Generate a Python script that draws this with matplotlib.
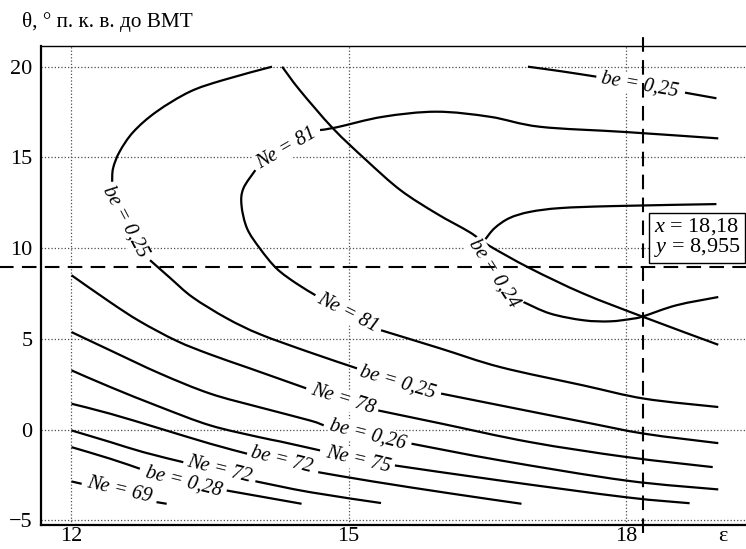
import numpy as np
import matplotlib.pyplot as plt
from matplotlib.path import Path
from matplotlib.patches import PathPatch

plt.rcParams['font.family'] = ['Liberation Serif', 'DejaVu Serif']
plt.rcParams['mathtext.fontset'] = 'custom'
plt.rcParams['mathtext.rm'] = 'Liberation Serif'
plt.rcParams['mathtext.it'] = 'Liberation Serif:italic'

# ----------------------------------------
# Данные (eps, theta)
# каждая кривая - список кусков, разрывы там где подписи
# ----------------------------------------
be25_loop = [
    ([14.17, 13.64, 13.28, 12.92, 12.67, 12.52, 12.45, 12.44],
     [20.0, 19.26, 18.62, 17.52, 16.41, 15.31, 14.40, 13.66]),
    ([12.85, 13.07, 13.31, 13.68, 14.04, 14.58, 15.09],
     [9.34, 8.35, 7.30, 6.14, 5.26, 4.26, 3.38]),
    ([16.00, 16.64, 17.54, 18.20, 19.00],
     [1.99, 1.34, 0.43, -0.22, -0.74]),
]
be25_top = [
    ([16.94, 17.31, 17.68], [20.0, 19.74, 19.45]),
    ([18.64, 18.98], [18.57, 18.26]),
]
ne81_loop = [
    ([19.00, 18.00, 17.07, 16.53, 15.95, 15.37, 14.87, 14.69],
     [16.05, 16.40, 16.69, 17.24, 17.52, 17.24, 16.66, 16.51]),
    ([13.99, 13.86, 13.84, 13.90, 14.04, 14.22, 14.43, 14.64],
     [14.30, 13.29, 12.37, 11.09, 9.98, 8.88, 8.07, 7.41]),
    ([15.35, 15.99, 16.64, 17.54, 18.20, 19.00],
     [5.48, 4.48, 3.45, 2.44, 1.71, 1.25]),
]
diag = [
    ([14.28, 14.47, 14.83, 15.19, 15.56, 15.95, 16.31, 16.51, 16.96, 17.54, 18.19, 19.00],
     [20.0, 18.71, 16.60, 14.85, 13.20, 11.91, 10.88, 10.17, 8.90, 7.50, 6.21, 4.68]),
]
be24 = [
    ([18.98, 17.86, 17.29, 16.96, 16.74, 16.58, 16.48],
     [12.43, 12.32, 12.21, 12.00, 11.66, 11.11, 10.50]),
    ([16.89, 17.18, 17.54, 17.83, 18.08, 18.19, 18.55, 19.00],
     [7.04, 6.40, 6.03, 5.97, 6.12, 6.25, 6.86, 7.31]),
]
ne78 = [
    ([12.0, 12.42, 12.74, 13.14, 13.50, 13.93, 14.54],
     [8.51, 7.02, 5.97, 4.89, 4.15, 3.38, 2.28]),
    ([15.32, 15.99, 16.96, 18.00, 18.94], [1.06, 0.35, -0.68, -1.50, -2.06]),
]
be26 = [
    ([12.0, 12.42, 12.96, 13.50, 14.04, 14.58, 14.73],
     [5.38, 4.37, 3.09, 1.99, 1.23, 0.51, 0.24]),
    ([15.68, 16.64, 18.00, 19.00], [-0.77, -1.69, -2.80, -3.29]),
]
ne75 = [
    ([12.0, 12.42, 12.96, 13.50, 14.04, 14.26, 14.69],
     [3.27, 2.35, 1.25, 0.24, -0.42, -0.65, -1.14]),
    ([15.50, 16.64, 18.00, 18.69], [-1.97, -2.80, -3.72, -4.05]),
]
be72 = [
    ([12.0, 12.42, 12.96, 13.50, 13.90], [1.43, 0.88, 0.06, -0.77, -1.32]),
    ([14.67, 15.26, 16.10, 16.87], [-2.34, -2.85, -3.51, -4.08]),
]
ne72 = [
    ([12.0, 12.42, 12.78, 13.21], [-0.04, -0.68, -1.24, -1.79]),
    ([13.99, 14.58, 15.35], [-2.84, -3.44, -4.04]),
]
be28 = [
    ([12.0, 12.42, 12.74], [-0.96, -1.60, -2.15]),
    ([13.68, 14.49], [-3.35, -4.08]),
]
ne69 = [
    ([12.0, 12.11], [-2.85, -2.98]),
    ([12.92, 13.03], [-3.99, -4.08]),
]
curves = [be25_loop, be25_top, ne81_loop, diag, be24, ne78, be26, ne75, be72, ne72, be28, ne69]

# подписи изолиний: текст, x, y, угол
labels = [
    ("be = 0,25", 12.58, 11.46, -62),
    ("be = 0,25", 15.53, 2.63, -16.5),
    ("be = 0,25", 18.15, 18.99, -10),
    ("Ne = 81", 14.33, 15.50, 30),
    ("Ne = 81", 14.99, 6.44, -27),
    ("be = 0,24", 16.57, 8.60, -57),
    ("Ne = 78", 14.94, 1.66, -17),
    ("be = 0,26", 15.21, -0.27, -14),
    ("Ne = 75", 15.10, -1.65, -13),
    ("be = 72", 14.27, -1.69, -14),
    ("Ne = 72", 13.60, -2.19, -14),
    ("be = 0,28", 13.21, -2.89, -14),
    ("Ne = 69", 12.52, -3.35, -13),
]

x_ticks = [12, 15, 18]
y_ticks = [-5, 0, 5, 10, 15, 20]
x_cur = 18.18
y_cur = 8.955


def smooth(xs, ys):
    # гладкая кривая (Catmull-Rom -> Безье) через снятые точки
    p = np.column_stack([xs, ys])
    if len(p) < 3:
        return Path(p)
    e = np.vstack([p[0], p, p[-1]])
    verts = [p[0]]
    codes = [Path.MOVETO]
    for i in range(1, len(e) - 2):
        verts += [e[i] + (e[i + 1] - e[i - 1]) / 6, e[i + 1] - (e[i + 2] - e[i]) / 6, e[i + 1]]
        codes += [Path.CURVE4] * 3
    return Path(verts, codes)


# ----------------------------------------
fig = plt.figure(figsize=(7.46, 5.49), dpi=100)
ax = fig.add_axes([41 / 746, 24 / 549, 705 / 746, 479 / 549])
ax.set_xlim(11.67, 19.30)
ax.set_ylim(-5.25, 21.14)

for curve in curves:
    for xs, ys in curve:
        ax.add_patch(PathPatch(smooth(xs, ys), fc='none', ec='black', lw=1.6,
                               capstyle='butt', zorder=3))

for txt, x, y, ang in labels:
    ax.text(x, y, txt, fontsize=14.5, fontstyle='italic', rotation=ang,
            rotation_mode='anchor', ha='center', va='center', zorder=4,
            bbox=dict(boxstyle='square,pad=0.05', fc='white', ec='none'))

ax.axhline(y_cur, xmin=-0.06, xmax=1.0, color='black', lw=1.5, dashes=(7, 4),
           clip_on=False, zorder=5)
ax.axvline(x_cur, ymin=-0.017, ymax=1.027, color='black', lw=1.5, dashes=(7, 4),
           clip_on=False, zorder=5)
ax.annotate("$x$ = 18,18\n$y$ = 8,955", xy=(x_cur, y_cur), xytext=(8.0, 6.0),
            textcoords='offset points', ha='left', va='bottom', fontsize=16,
            linespacing=0.95, zorder=6,
            bbox=dict(boxstyle='square,pad=0.2', fc='white', ec='black', lw=1))

ax.set_xticks(x_ticks)
ax.set_yticks(y_ticks)
ax.tick_params(length=0, labelsize=16)
ax.tick_params(axis='x', pad=1.5)
ax.tick_params(axis='y', pad=6)
ax.grid(True, ls=':', color='0.3', lw=0.9)
ax.set_axisbelow(True)
for s in ['left', 'bottom']:
    ax.spines[s].set_linewidth(1.6)
ax.spines['top'].set_linewidth(1.0)
ax.spines['right'].set_visible(False)

ax.annotate('ε', xy=(19.05, 0), xycoords=('data', 'axes fraction'),
            xytext=(0, -1.5), textcoords='offset points', ha='center', va='top',
            fontsize=16)
fig.text(22 / 746, 1 - 22 / 549, 'θ, ° п. к. в. до ВМТ', ha='left', va='center',
         fontsize=15.3)

fig.savefig('out.png', dpi=100)
